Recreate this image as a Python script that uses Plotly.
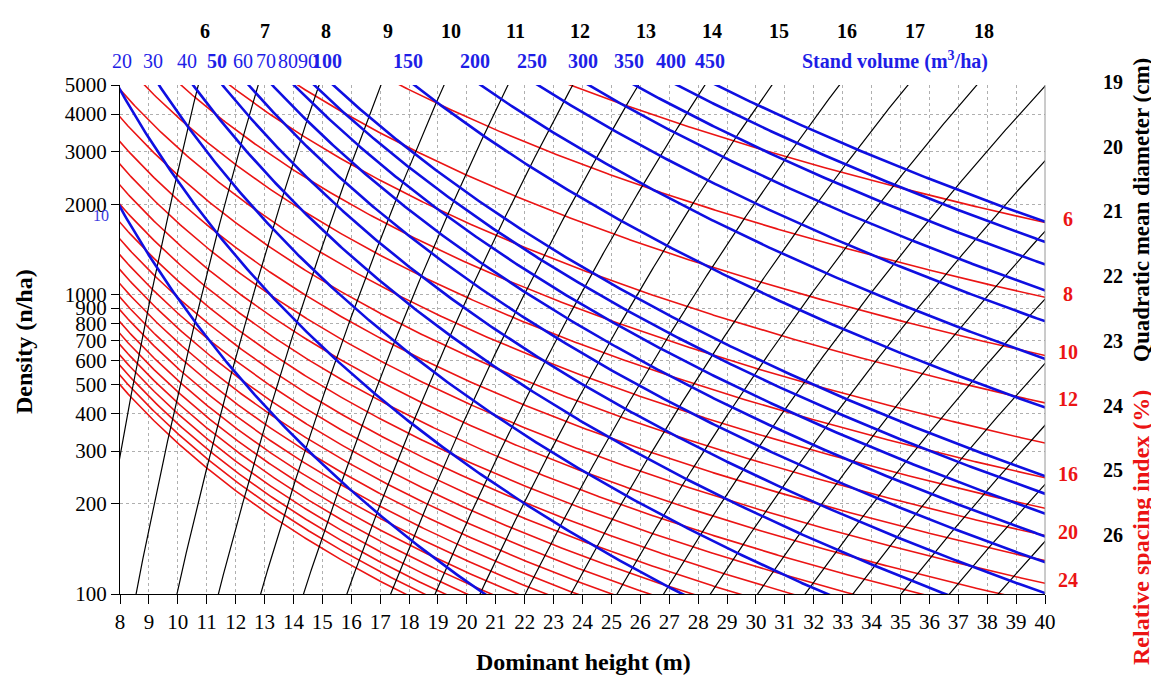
import numpy as np
import plotly.graph_objects as go

# ---------------- data ----------------
# Relative spacing index isolines (%)
rs_levels = [6, 8, 10, 12, 14, 16, 18, 20, 22, 24, 26, 28, 30, 32, 34, 36,
             38, 40, 42, 44, 46, 48, 50, 52, 54, 56]
rs_labelled = [6, 8, 10, 12, 16, 20, 24]

# Stand volume isolines (m3/ha)
vol_levels = [10, 20, 30, 40, 50, 60, 70, 80, 90, 100, 150, 200, 250, 300,
              350, 400, 450]
vol_bold = [50, 100, 150, 200, 250, 300, 350, 400, 450]

# Quadratic mean diameter isolines (cm)
dq_levels = [6, 7, 8, 9, 10, 11, 12, 13, 14, 15, 16, 17, 18, 19, 20, 21, 22,
             23, 24, 25, 26]
dq_top_labels = [6, 7, 8, 9, 10, 11, 12, 13, 14, 15, 16, 17, 18]
dq_right_labels = [19, 20, 21, 22, 23, 24, 25, 26]

# model coefficients estimated from the isolines in the picture
vol_log_k, vol_exp_n, vol_exp_h = -3.72, 0.77, 2.42     # V = k N^b H^c
dq_log_k, dq_exp_h, dq_exp_n = 0.2097, 0.874, -0.0896   # Dq = k H^a N^b

# axes
height_ticks = list(range(8, 41))
density_ticks = [100, 200, 300, 400, 500, 600, 700, 800, 900, 1000,
                 2000, 3000, 4000, 5000]
H_MIN, H_MAX = 8, 40
N_MIN, N_MAX = 100, 5000

# ---------------- styling ----------------
SERIF = "Liberation Serif, Times New Roman, serif"
RED = "rgb(235,20,20)"
BLUE = "rgb(15,15,225)"
LBLUE = "rgb(30,30,230)"
BLACK = "black"

# page body has an 8px margin; geometry below is in screenshot pixels
OFF = 8
SHOT_W, SHOT_H = 1159, 679
X0, X1, Y0, Y1 = 120, 1045, 85, 594      # plot area in screenshot pixels
W, HGT = SHOT_W - OFF, SHOT_H - OFF
ML, MT = X0 - OFF, Y0 - OFF
MR, MB = W - (X1 - OFF), HGT - (Y1 - OFF)
PW, PH = X1 - X0, Y1 - Y0


def px(xpix):
    return (xpix - X0) / PW


def py(ypix):
    return (Y1 - ypix) / PH


def hx(h):
    return (h - H_MIN) / (H_MAX - H_MIN)


fig = go.Figure()

H = np.linspace(6.0, 42.0, 600)

# red: relative spacing index curves
for rs in rs_levels:
    N = 1e4 / (rs * H / 100.0) ** 2
    m = (N > 60) & (N < 9000)
    fig.add_trace(go.Scatter(x=H[m], y=N[m], mode="lines",
                             line=dict(color=RED, width=1.6),
                             hoverinfo="skip", showlegend=False))

# black: quadratic mean diameter lines
logN = np.linspace(1.8, 3.9, 300)
Nd = 10 ** logN
for dq in dq_levels:
    Hd = 10 ** ((np.log10(dq) - dq_log_k - dq_exp_n * logN) / dq_exp_h)
    fig.add_trace(go.Scatter(x=Hd, y=Nd, mode="lines",
                             line=dict(color=BLACK, width=1.2),
                             hoverinfo="skip", showlegend=False))

# blue: stand volume curves
for v in vol_levels:
    N = 10 ** ((np.log10(v) - vol_log_k - vol_exp_h * np.log10(H)) / vol_exp_n)
    m = (N > 60) & (N < 9000)
    fig.add_trace(go.Scatter(x=H[m], y=N[m], mode="lines",
                             line=dict(color=BLUE, width=2.6),
                             hoverinfo="skip", showlegend=False))

ann = []
# Dq labels along the top
for dq in dq_top_labels:
    h_top = 10 ** ((np.log10(dq) - dq_log_k - dq_exp_n * np.log10(N_MAX)) / dq_exp_h)
    ann.append(dict(x=hx(h_top + 0.25), xref="paper", y=py(31), yref="paper",
                    text="<b>%d</b>" % dq, showarrow=False,
                    font=dict(family=SERIF, size=20, color=BLACK),
                    xanchor="center", yanchor="middle"))
# Dq labels on the right
for i, dq in enumerate(dq_right_labels):
    ann.append(dict(x=px(1113), xref="paper", y=py(82 + i * 64.7), yref="paper",
                    text="<b>%d</b>" % dq, showarrow=False,
                    font=dict(family=SERIF, size=20, color=BLACK),
                    xanchor="center", yanchor="middle"))
# volume labels along the top
for v in vol_levels[1:]:
    h_top = 10 ** ((np.log10(v) - vol_log_k - vol_exp_n * np.log10(N_MAX)) / vol_exp_h)
    txt = "<b>%d</b>" % v if v in vol_bold else str(v)
    ann.append(dict(x=max(hx(h_top - 0.2), px(122)), xref="paper", y=py(61),
                    yref="paper", text=txt, showarrow=False,
                    font=dict(family=SERIF, size=20, color=LBLUE),
                    xanchor="center", yanchor="middle"))
# "10" volume label at the left
ann.append(dict(x=px(111), xref="paper", y=py(215), yref="paper",
                text=str(vol_levels[0]), showarrow=False,
                font=dict(family=SERIF, size=16, color="rgb(60,60,225)"),
                xanchor="right", yanchor="middle"))
ann.append(dict(x=px(895), xref="paper", y=py(61), yref="paper",
                text="<b>Stand volume (m<sup>3</sup>/ha)</b>", showarrow=False,
                font=dict(family=SERIF, size=20, color=LBLUE),
                xanchor="center", yanchor="middle"))
# RS labels on the right
for rs in rs_labelled:
    n_end = 1e4 / (rs * H_MAX / 100.0) ** 2
    ann.append(dict(x=px(1068), xref="paper", y=np.log10(n_end) + 0.012, yref="y",
                    text="<b>%d</b>" % rs, showarrow=False,
                    font=dict(family=SERIF, size=20, color=RED),
                    xanchor="center", yanchor="middle"))
# axis titles
ann.append(dict(x=px(583), xref="paper", y=py(662), yref="paper",
                text="<b>Dominant height (m)</b>", showarrow=False,
                font=dict(family=SERIF, size=24, color=BLACK),
                xanchor="center", yanchor="middle"))
ann.append(dict(x=px(24), xref="paper", y=py(342), yref="paper",
                text="<b>Density (n/ha)</b>", showarrow=False, textangle=-90,
                font=dict(family=SERIF, size=24, color=BLACK),
                xanchor="center", yanchor="middle"))
ann.append(dict(x=px(1141), xref="paper", y=py(210), yref="paper",
                text="<b>Quadratic mean diameter (cm)</b>", showarrow=False,
                textangle=-90,
                font=dict(family=SERIF, size=23, color=BLACK),
                xanchor="center", yanchor="middle"))
ann.append(dict(x=px(1141), xref="paper", y=py(528), yref="paper",
                text="<b>Relative spacing index (%)</b>", showarrow=False,
                textangle=-90,
                font=dict(family=SERIF, size=24, color=RED),
                xanchor="center", yanchor="middle"))

fig.update_layout(
    width=W, height=HGT,
    margin=dict(l=ML, r=MR, t=MT, b=MB, pad=0),
    paper_bgcolor="white", plot_bgcolor="white",
    showlegend=False,
    annotations=ann,
    font=dict(family=SERIF, size=20, color=BLACK),
    shapes=[dict(type="line", xref="paper", yref="paper", x0=1, x1=1, y0=0, y1=1,
                 line=dict(color="rgb(150,150,150)", width=1))],
)
fig.update_xaxes(range=[H_MIN, H_MAX], tickmode="array", tickvals=height_ticks,
                 ticktext=[str(t) for t in height_ticks],
                 showgrid=True, gridcolor="rgb(175,175,175)", griddash="dot",
                 gridwidth=1, showline=True, linecolor=BLACK, linewidth=1.2,
                 ticks="outside", ticklen=9, tickcolor=BLACK,
                 tickfont=dict(family=SERIF, size=21, color=BLACK),
                 zeroline=False)
fig.update_yaxes(type="log", range=[np.log10(N_MIN), np.log10(N_MAX)],
                 tickmode="array", tickvals=density_ticks,
                 ticktext=[str(t) for t in density_ticks],
                 showgrid=True, gridcolor="rgb(175,175,175)", griddash="dot",
                 gridwidth=1, showline=True, linecolor=BLACK, linewidth=1.2,
                 ticks="outside", ticklen=8, tickcolor=BLACK,
                 tickfont=dict(family=SERIF, size=21, color=BLACK),
                 zeroline=False)

fig.write_html("out.html")
